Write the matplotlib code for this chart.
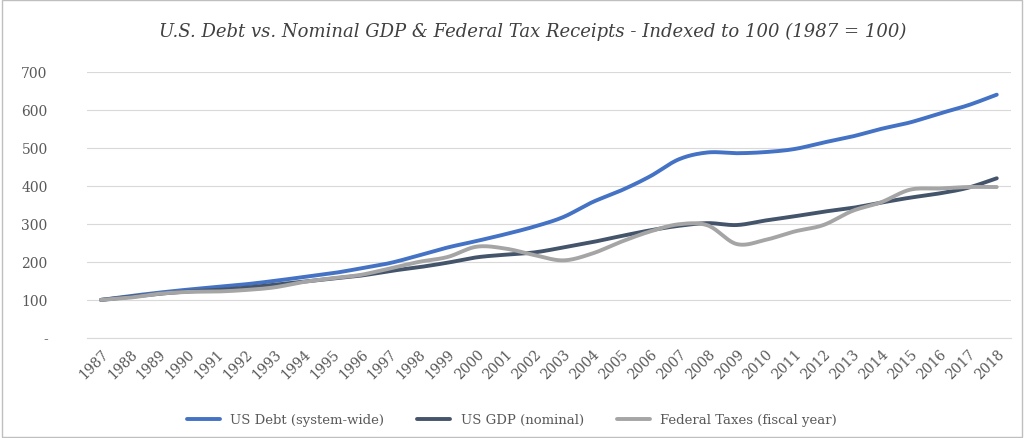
import matplotlib
matplotlib.use("Agg")
import matplotlib.pyplot as plt
import numpy as np

years = list(range(1987, 2019))
debt = [100,110,119,127,134,141,150,160,170,183,197,217,238,255,273,293,318,357,388,425,470,488,486,489,497,514,530,550,567,590,612,640]
gdp = [100,108,116,122,126,132,140,148,156,164,176,186,198,212,219,225,238,252,268,283,295,302,297,309,320,332,342,356,369,380,395,420]
taxes = [100,106,116,121,122,126,133,147,157,166,183,200,213,240,235,218,204,222,253,280,299,296,247,258,280,297,334,357,390,393,397,397]

def smooth(x, y, n=20):
    x = np.asarray(x, float); y = np.asarray(y, float)
    px = np.concatenate([[2*x[0]-x[1]], x, [2*x[-1]-x[-2]]])
    py = np.concatenate([[2*y[0]-y[1]], y, [2*y[-1]-y[-2]]])
    xs, ys = [], []
    for i in range(1, len(px)-2):
        t = np.linspace(0, 1, n, endpoint=False)
        for p, out in ((px, xs), (py, ys)):
            p0, p1, p2, p3 = p[i-1], p[i], p[i+1], p[i+2]
            out.extend(0.5*((2*p1) + (-p0+p2)*t + (2*p0-5*p1+4*p2-p3)*t**2 + (-p0+3*p1-3*p2+p3)*t**3))
    xs.append(x[-1]); ys.append(y[-1])
    return np.array(xs), np.array(ys)

plt.rcParams['font.family'] = ['DejaVu Serif']
fig = plt.figure(figsize=(10.24, 4.39), dpi=100)
ax = fig.add_axes([0.0845, 0.228, 0.903, 0.606])
fig.patches.append(plt.Rectangle((0.002, 0.003), 0.996, 0.994, transform=fig.transFigure,
                                 fill=False, edgecolor='#bfbfbf', lw=1))
for y, c, lab in ((debt, '#4472c4', 'US Debt (system-wide)'),
                  (gdp, '#44546a', 'US GDP (nominal)'),
                  (taxes, '#a5a5a5', 'Federal Taxes (fiscal year)')):
    xs, ys = smooth(years, y)
    ax.plot(xs, ys, color=c, lw=2.8, label=lab, solid_capstyle='round')
ax.set_ylim(0, 700)
ax.set_xlim(1986.5, 2018.5)
ax.set_yticks(range(0, 701, 100))
ax.set_yticklabels(['-'] + [str(v) for v in range(100, 701, 100)], fontsize=10, color='#595959')
ax.set_xticks(years)
ax.set_xticklabels([str(y) for y in years], rotation=45, fontsize=10, color='#595959', ha='right', rotation_mode='anchor')
ax.grid(axis='y', color='#d9d9d9', lw=0.8)
ax.set_axisbelow(True)
for s in ('top', 'right', 'left'):
    ax.spines[s].set_visible(False)
ax.spines['bottom'].set_color('#d9d9d9')
ax.tick_params(length=0)
ax.tick_params(axis='y', pad=28)
ax.tick_params(axis='x', pad=6)
fig.text(0.52, 0.915, 'U.S. Debt vs. Nominal GDP & Federal Tax Receipts - Indexed to 100 (1987 = 100)',
         ha='center', fontsize=13, style='italic', color='#404040')
fig.legend(loc='lower center', ncol=3, frameon=False, fontsize=9.5, bbox_to_anchor=(0.5, 0.0),
           handlelength=2.5, columnspacing=2.5, labelcolor='#595959')
fig.savefig('out.png', dpi=100)
